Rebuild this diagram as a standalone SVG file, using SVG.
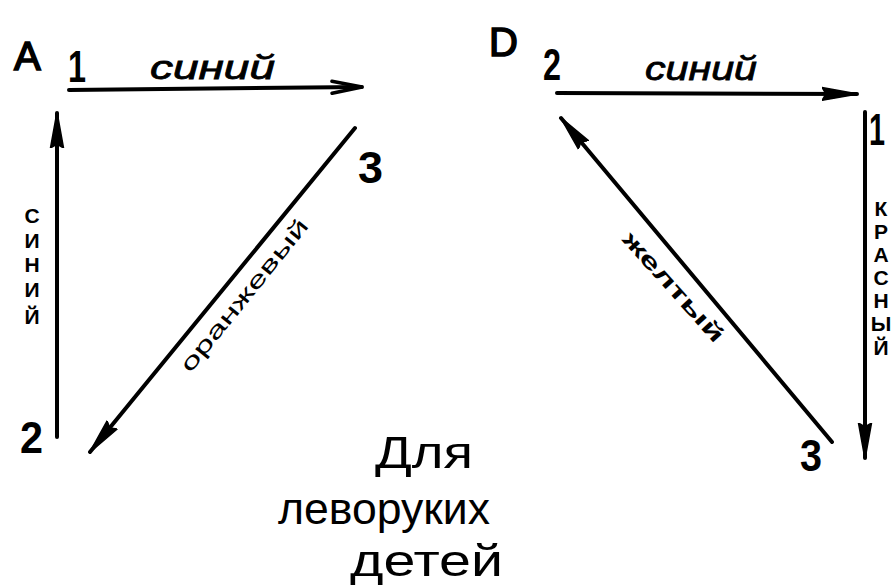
<svg xmlns="http://www.w3.org/2000/svg" width="892" height="586" viewBox="0 0 892 586">
  <defs>
    <marker id="head" markerUnits="userSpaceOnUse" viewBox="0 0 36 16" markerWidth="36" markerHeight="16" refX="35" refY="8" orient="auto">
      <path d="M0,1.5 L36,8 L0,14.5 L4,8 z" fill="#000" stroke="#000" stroke-width="1.5" stroke-linejoin="round"/>
    </marker>
    <marker id="open" markerUnits="userSpaceOnUse" viewBox="0 0 36 16" markerWidth="36" markerHeight="16" refX="34" refY="8" orient="auto">
      <path d="M4,2 L34,8 L4,14" fill="none" stroke="#000" stroke-width="3.5" stroke-linecap="round"/>
    </marker>
  </defs>
  <style>
    .ln { stroke:#000; stroke-width:4; fill:none; stroke-linecap:round; }
    .big { font-family:"Liberation Sans", sans-serif; font-size:40px; fill:#000; stroke:#000; stroke-width:1.6; }
    .num { font-family:"Liberation Sans", sans-serif; font-size:44px; font-weight:bold; fill:#000; }
    .lab { font-family:"Liberation Sans", sans-serif; font-style:italic; font-size:34px; fill:#000; stroke:#000; stroke-width:0.8; }
    .vert { font-family:"Liberation Sans", sans-serif; font-size:21px; font-weight:bold; fill:#000; text-anchor:middle; }
    .diag { font-family:"Liberation Sans", sans-serif; font-size:22px; fill:#000; text-anchor:middle; }
    .note { font-family:"Liberation Sans", sans-serif; font-size:44px; fill:#000; }
  </style>
  <rect width="892" height="586" fill="#fff"/>

  <g id="connectors">
    <line class="ln" x1="69" y1="90" x2="362" y2="87" marker-end="url(#open)"/>
    <line class="ln" x1="57" y1="437" x2="57" y2="113" marker-end="url(#head)"/>
    <line class="ln" x1="355" y1="128" x2="90" y2="452" marker-end="url(#head)"/>
    <line class="ln" x1="557" y1="93" x2="857" y2="94" marker-end="url(#head)"/>
    <line class="ln" x1="865" y1="112" x2="865" y2="458" marker-end="url(#head)"/>
    <line class="ln" x1="832" y1="442" x2="561" y2="118" marker-end="url(#head)"/>
  </g>

  <g id="label-A"><text class="big" x="14" y="70">A</text></g>
  <g id="node-A1"><text class="num" x="68" y="82" textLength="18" lengthAdjust="spacingAndGlyphs">1</text></g>
  <g id="node-A2"><text class="num" x="20" y="453" textLength="23" lengthAdjust="spacingAndGlyphs">2</text></g>
  <g id="node-A3"><text class="num" x="358" y="183" textLength="25" lengthAdjust="spacingAndGlyphs">3</text></g>

  <g id="label-D"><text class="big" x="489" y="56">D</text></g>
  <g id="node-D2"><text class="num" x="543" y="80" textLength="18" lengthAdjust="spacingAndGlyphs">2</text></g>
  <g id="node-D1"><text class="num" x="869" y="145" textLength="16" lengthAdjust="spacingAndGlyphs">1</text></g>
  <g id="node-D3"><text class="num" x="800" y="471" textLength="22" lengthAdjust="spacingAndGlyphs">3</text></g>

  <g id="edge-labels">
    <text class="lab" x="150" y="79" textLength="125" lengthAdjust="spacingAndGlyphs">синий</text>
    <text class="lab" x="645" y="80" textLength="112" lengthAdjust="spacingAndGlyphs">синий</text>
    <g class="vert">
      <text x="32" y="223">С</text>
      <text x="32" y="248">И</text>
      <text x="32" y="272">Н</text>
      <text x="32" y="297">И</text>
      <text x="32" y="324">Й</text>
    </g>
    <g class="vert">
      <text x="881" y="216">К</text>
      <text x="881" y="239">Р</text>
      <text x="881" y="262">А</text>
      <text x="881" y="285">С</text>
      <text x="881" y="308">Н</text>
      <text x="881" y="331">Ы</text>
      <text x="881" y="355">Й</text>
    </g>
    <text class="diag" transform="translate(250,300) rotate(-51)" textLength="190" lengthAdjust="spacingAndGlyphs">оранжевый</text>
    <text class="diag" font-weight="bold" transform="translate(668,292) rotate(48)" textLength="140" lengthAdjust="spacingAndGlyphs">желтый</text>
  </g>

  <g id="caption">
    <text class="note" x="375" y="468" textLength="98" lengthAdjust="spacingAndGlyphs">Для</text>
    <text class="note" x="278" y="524" textLength="212" lengthAdjust="spacingAndGlyphs">леворуких</text>
    <text class="note" x="350" y="576" textLength="153" lengthAdjust="spacingAndGlyphs">детей</text>
  </g>
</svg>
